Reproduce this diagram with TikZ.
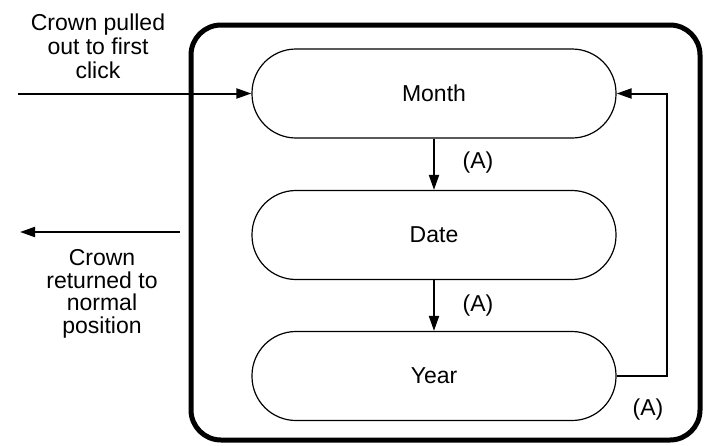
\documentclass[tikz,border=0pt]{standalone}
\usepackage{fontspec}
\setmainfont{Liberation Sans}
\usetikzlibrary{arrows.meta}
\begin{document}
\begin{tikzpicture}[x=1pt,y=-1pt,
  state/.style={draw,line width=1.2pt,rounded corners=44pt,minimum width=364pt,minimum height=89pt,inner sep=0pt,font=\fontsize{23}{24}\selectfont},
  lbl/.style={font=\fontsize{23}{24}\selectfont,align=center,inner sep=0pt},
  arr/.style={line width=2pt,-{Triangle[length=15pt,width=10pt]}}]
\useasboundingbox (0,0) rectangle (709,445);
\node[draw,line width=5pt,rounded corners=30pt,minimum width=509pt,minimum height=415pt,inner sep=0pt] (frame) at (445.5,232.5) {};
\node[state] (month) at (434,93.5) {Month};
\node[state] (date) at (434,235) {Date};
\node[state] (year) at (434,376) {Year};
\draw[arr] (month) -- (date);
\draw[arr] (date) -- (year);
\node[lbl] (a1) at (478,163) {(A)};
\node[lbl] (a2) at (478,306) {(A)};
\node[lbl] (a3) at (648,410) {(A)};
\coordinate (loopc) at (667,376);
\draw[arr] (year.east) -- (loopc) |- (month.east);
\coordinate (inStart) at (18,93.5);
\draw[arr] (inStart) -- (month.west);
\coordinate (outA) at (180,232);
\coordinate (outB) at (20,232);
\draw[arr] (outA) -- (outB);
\node[lbl] (intext) at (98,46) {Crown pulled\\out to first\\click};
\node[lbl,font=\fontsize{23}{22.5}\selectfont] (outtext) at (102,294) {Crown\\returned to\\normal\\position};
\end{tikzpicture}
\end{document}
